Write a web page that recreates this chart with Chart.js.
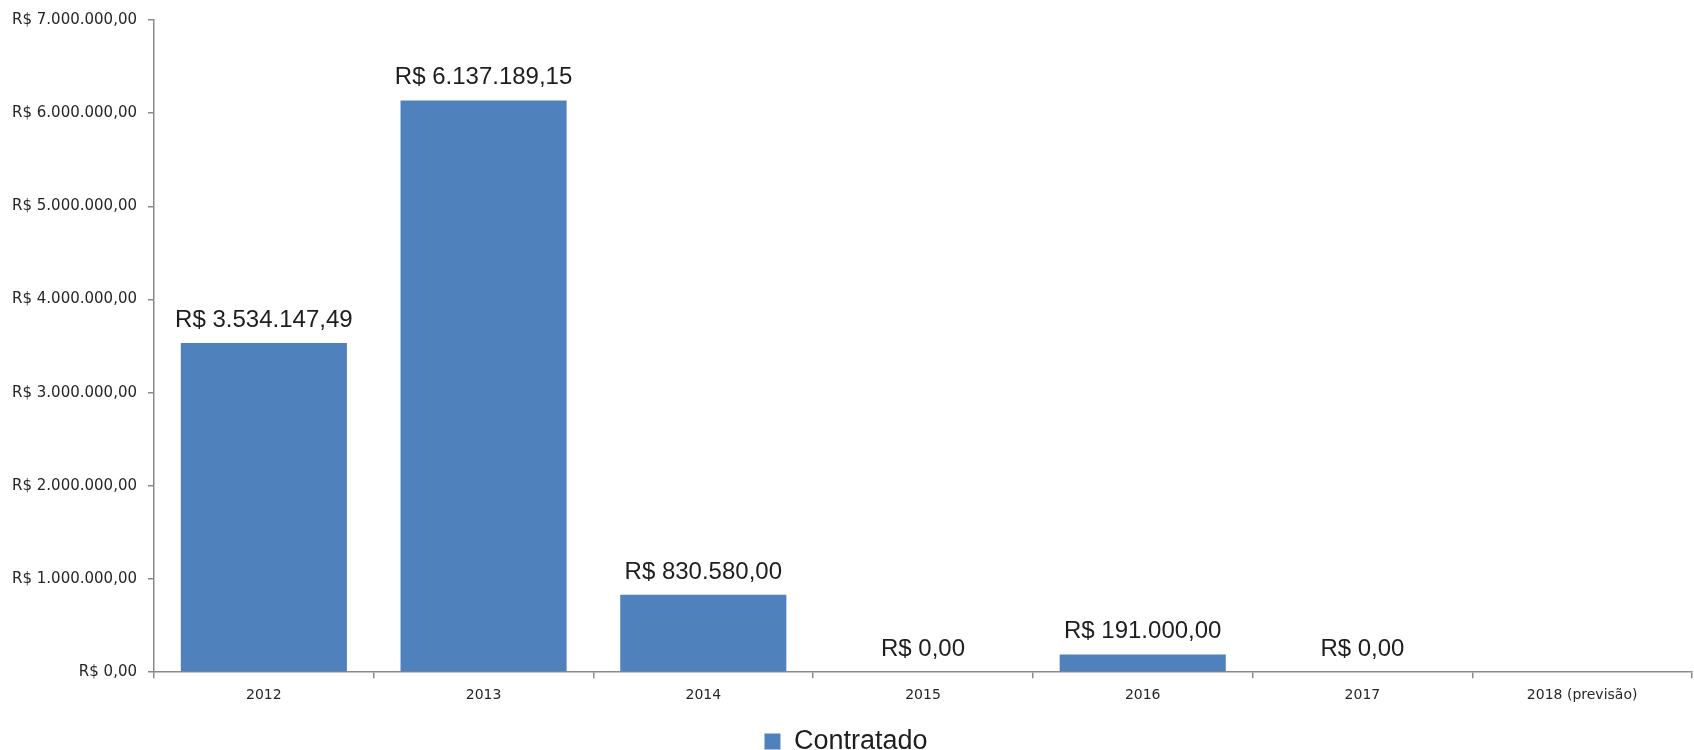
<!DOCTYPE html>
<html>
<head>
<meta charset="utf-8">
<script src="https://cdn.jsdelivr.net/npm/chart.js@4/dist/chart.umd.min.js"></script>
<style>
  html, body { margin: 0; padding: 0; background: #fff; }
  #wrap { width: 1694px; height: 750px; }
</style>
</head>
<body>
<div id="wrap"><canvas id="chart" width="1694" height="750"></canvas></div>
<script>
// Data
const years = ["2012", "2013", "2014", "2015", "2016", "2017", "2018 (previsão)"];
const contratado = [3534147.49, 6137189.15, 830580.00, 0, 191000.00, 0, null];
const seriesName = "Contratado";
const yMax = 7000000;
const yStep = 1000000;

// R$ formatting, pt-BR style
function brl(v) {
  const parts = v.toFixed(2).split(".");
  const int = parts[0].replace(/\B(?=(\d{3})+(?!\d))/g, ".");
  return "R$ " + int + "," + parts[1];
}

const axisColor = "#8a8a8a";

// Value labels above the bars
const valueLabels = {
  id: "valueLabels",
  afterDatasetsDraw(chart) {
    const ctx = chart.ctx;
    const meta = chart.getDatasetMeta(0);
    ctx.save();
    ctx.font = "24px 'Liberation Sans', Arial, sans-serif";
    ctx.fillStyle = "#1e1e1e";
    ctx.textAlign = "center";
    ctx.textBaseline = "alphabetic";
    meta.data.forEach((bar, i) => {
      const v = contratado[i];
      if (v === null || v === undefined) return;
      ctx.fillText(brl(v), bar.x, bar.y - 16);
    });
    ctx.restore();
  }
};

const ctx = document.getElementById("chart").getContext("2d");
const chart = new Chart(ctx, {
  type: "bar",
  data: {
    labels: years,
    datasets: [{
      label: seriesName,
      data: contratado,
      backgroundColor: "#4f81bd",
      borderWidth: 0,
      barPercentage: 0.756,
      categoryPercentage: 1.0
    }]
  },
  options: {
    responsive: false,
    animation: false,
    layout: { padding: { left: 0, right: 2, top: 20, bottom: -15 } },
    plugins: {
      tooltip: { enabled: false },
      legend: {
        position: "bottom",
        labels: {
          boxWidth: 16,
          boxHeight: 16,
          padding: 4,
          color: "#1e1e1e",
          font: { family: "'Liberation Sans', Arial, sans-serif", size: 27 }
        }
      }
    },
    scales: {
      x: {
        afterFit(scale) { scale.height += 11; },
        grid: {
          display: true,
          drawOnChartArea: false,
          drawTicks: true,
          tickLength: 6,
          color: axisColor,
          lineWidth: 1.5,
          offset: true
        },
        border: { color: axisColor, width: 1.5 },
        ticks: {
          color: "#262626",
          padding: 9,
          font: { family: "'DejaVu Sans', sans-serif", size: 14 }
        }
      },
      y: {
        min: 0,
        max: yMax,
        afterFit(scale) { scale.width = 154; },
        grid: {
          display: true,
          drawOnChartArea: false,
          drawTicks: true,
          tickLength: 6,
          color: axisColor,
          lineWidth: 1.5
        },
        border: { color: axisColor, width: 1.5 },
        ticks: {
          stepSize: yStep,
          color: "#262626",
          padding: 11,
          font: { family: "'DejaVu Sans', sans-serif", size: 15 },
          callback: v => brl(v)
        }
      }
    }
  },
  plugins: [valueLabels]
});
</script>
</body>
</html>
